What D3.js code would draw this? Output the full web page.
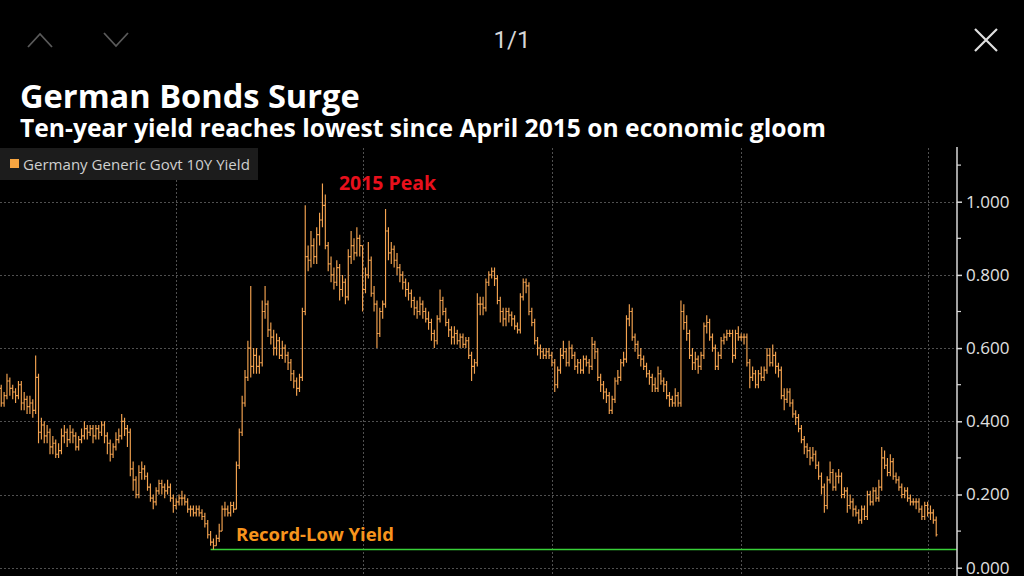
<!DOCTYPE html>
<html><head><meta charset="utf-8">
<script src="https://cdn.jsdelivr.net/npm/d3@7"></script>
<style>html,body{margin:0;padding:0;background:#000;overflow:hidden}</style>
</head><body>
<svg id="c" width="1024" height="576"></svg>
<script>
// ---- data (daily, Jan 2015 - Apr 2016) ----
const closes = [
0.50,0.49,0.45,0.47,0.51,0.49,0.48,0.47,0.50,0.45,
0.46,0.44,0.45,0.43,0.52,0.37,0.39,0.36,0.37,0.33,
0.34,0.31,0.32,0.36,0.37,0.35,0.37,0.36,0.33,0.35,
0.36,0.38,0.37,0.38,0.36,0.38,0.37,0.39,0.36,0.34,
0.31,0.33,0.35,0.36,0.40,0.38,0.37,0.27,0.24,0.20,
0.26,0.27,0.25,0.22,0.19,0.18,0.21,0.23,0.22,0.21,
0.22,0.19,0.17,0.18,0.19,0.19,0.18,0.16,0.16,0.15,
0.16,0.15,0.14,0.12,0.09,0.07,0.06,0.08,0.10,0.16,
0.16,0.15,0.17,0.16,0.28,0.37,0.45,0.52,0.60,0.55,
0.58,0.55,0.56,0.70,0.72,0.65,0.63,0.60,0.62,0.58,
0.60,0.58,0.56,0.53,0.51,0.49,0.52,0.70,0.85,0.84,
0.88,0.85,0.91,0.95,0.99,0.88,0.83,0.80,0.78,0.82,
0.76,0.78,0.74,0.85,0.88,0.86,0.90,0.88,0.76,0.80,
0.84,0.75,0.72,0.64,0.70,0.72,0.92,0.86,0.87,0.84,
0.82,0.80,0.78,0.76,0.75,0.73,0.71,0.70,0.72,0.70,
0.68,0.67,0.64,0.62,0.68,0.73,0.70,0.67,0.65,0.63,
0.64,0.62,0.63,0.61,0.62,0.58,0.55,0.56,0.72,0.72,
0.71,0.78,0.80,0.81,0.79,0.73,0.70,0.68,0.70,0.69,
0.68,0.66,0.65,0.74,0.78,0.77,0.70,0.67,0.62,0.60,
0.59,0.58,0.59,0.58,0.56,0.50,0.54,0.58,0.59,0.56,
0.60,0.58,0.55,0.56,0.54,0.57,0.56,0.55,0.61,0.59,
0.52,0.50,0.48,0.47,0.43,0.46,0.51,0.52,0.56,0.57,
0.68,0.70,0.63,0.61,0.58,0.57,0.55,0.53,0.52,0.50,
0.49,0.53,0.51,0.50,0.47,0.46,0.45,0.47,0.45,0.70,
0.67,0.64,0.58,0.56,0.57,0.55,0.58,0.66,0.67,0.63,
0.60,0.55,0.58,0.62,0.63,0.64,0.64,0.58,0.64,0.63,
0.63,0.63,0.56,0.52,0.53,0.50,0.53,0.52,0.54,0.58,
0.56,0.58,0.55,0.54,0.47,0.46,0.48,0.45,0.42,0.41,
0.38,0.35,0.33,0.32,0.30,0.31,0.28,0.25,0.22,0.17,
0.24,0.26,0.22,0.25,0.25,0.20,0.21,0.17,0.18,0.16,
0.15,0.13,0.16,0.14,0.20,0.18,0.21,0.19,0.22,0.30,
0.28,0.26,0.29,0.25,0.24,0.22,0.20,0.21,0.19,0.18,
0.18,0.18,0.16,0.14,0.17,0.15,0.15,0.13,0.09];
const highs = [
.53,.52,.50,.48,.53,.52,.50,.49,.51,.51,
.48,.47,.47,.46,.58,.53,.41,.40,.39,.38,
.36,.35,.34,.38,.39,.38,.39,.38,.37,.36,
.38,.40,.39,.39,.39,.39,.39,.40,.40,.37,
.35,.34,.37,.38,.42,.41,.39,.38,.29,.25,
.28,.29,.28,.26,.23,.20,.22,.24,.24,.23,
.24,.23,.20,.19,.20,.21,.20,.19,.17,.17,
.17,.17,.16,.15,.13,.10,.08,.09,.12,.17,
.18,.17,.18,.18,.29,.38,.47,.54,.62,.77,
.60,.60,.58,.73,.77,.73,.67,.65,.64,.63,
.62,.61,.59,.57,.54,.52,.53,.71,.99,.88,
.92,.90,.93,.97,1.05,1.02,.89,.85,.82,.84,
.83,.80,.79,.87,.92,.90,.93,.91,.88,.82,
.89,.85,.77,.73,.71,.73,.98,.93,.89,.88,
.86,.83,.81,.79,.78,.76,.74,.73,.74,.73,
.71,.70,.68,.65,.69,.76,.74,.71,.68,.66,
.66,.65,.64,.64,.63,.63,.59,.57,.75,.74,
.74,.79,.81,.82,.82,.80,.74,.71,.71,.71,
.70,.69,.67,.75,.79,.79,.78,.71,.68,.63,
.61,.60,.60,.60,.59,.57,.55,.60,.62,.60,
.62,.61,.59,.57,.57,.58,.58,.57,.63,.62,
.60,.53,.51,.49,.48,.47,.52,.54,.57,.59,
.69,.72,.71,.64,.62,.60,.58,.56,.54,.53,
.52,.55,.54,.52,.51,.48,.47,.49,.48,.73,
.72,.69,.65,.60,.59,.58,.59,.67,.69,.68,
.64,.61,.59,.63,.64,.65,.65,.65,.65,.66,
.64,.64,.64,.57,.55,.54,.54,.55,.55,.60,
.60,.61,.59,.56,.55,.49,.49,.49,.46,.43,
.42,.39,.36,.34,.33,.33,.32,.29,.26,.23,
.25,.29,.27,.26,.27,.26,.22,.22,.20,.19,
.17,.16,.17,.17,.21,.21,.22,.22,.24,.33,
.32,.30,.31,.30,.26,.25,.23,.22,.22,.20,
.19,.19,.19,.17,.18,.18,.17,.16,.14];
const lows = [
.48,.47,.44,.44,.46,.47,.46,.45,.46,.43,
.43,.42,.42,.41,.42,.34,.35,.34,.34,.31,
.31,.30,.30,.31,.34,.33,.34,.34,.32,.32,
.34,.35,.35,.36,.34,.35,.35,.36,.34,.31,
.29,.30,.32,.34,.35,.36,.33,.25,.21,.19,
.19,.24,.24,.21,.18,.16,.17,.20,.20,.19,
.20,.18,.15,.16,.17,.17,.17,.15,.14,.14,
.14,.14,.13,.11,.08,.06,.05,.06,.07,.10,
.14,.14,.14,.15,.16,.27,.36,.44,.51,.52,
.53,.53,.53,.55,.68,.63,.61,.58,.58,.57,
.57,.56,.54,.51,.49,.47,.48,.51,.69,.81,
.82,.83,.83,.88,.93,.87,.81,.78,.76,.77,
.73,.74,.72,.73,.83,.84,.85,.85,.70,.75,
.79,.74,.70,.60,.63,.68,.71,.84,.83,.82,
.80,.78,.76,.74,.73,.71,.69,.68,.69,.68,
.67,.65,.62,.60,.61,.67,.69,.66,.63,.61,
.61,.61,.60,.60,.60,.57,.51,.53,.55,.69,
.69,.70,.77,.79,.77,.72,.67,.66,.66,.67,
.66,.65,.64,.64,.73,.75,.69,.66,.61,.58,
.57,.57,.57,.57,.55,.48,.49,.53,.57,.55,
.55,.57,.54,.53,.53,.53,.55,.53,.54,.57,
.51,.48,.46,.45,.42,.42,.45,.50,.51,.55,
.56,.66,.62,.59,.57,.55,.54,.52,.50,.48,
.48,.48,.50,.48,.46,.44,.44,.44,.44,.44,
.65,.62,.57,.54,.54,.53,.54,.57,.64,.62,
.59,.54,.54,.57,.61,.62,.63,.56,.57,.62,
.62,.61,.55,.49,.51,.49,.49,.51,.51,.53,
.55,.55,.53,.52,.46,.43,.45,.44,.41,.39,
.37,.34,.31,.30,.28,.29,.27,.24,.20,.15,
.16,.23,.21,.21,.23,.19,.19,.15,.16,.14,
.14,.12,.12,.13,.13,.17,.17,.18,.18,.21,
.27,.25,.25,.24,.23,.21,.19,.19,.18,.17,
.17,.16,.15,.13,.13,.14,.13,.12,.085];
const firstOpen = 0.51;
const quarterStarts = [63, 128, 194, 260, 325]; // Apr-15, Jul-15, Oct-15, Jan-16, Apr-16
const yTicks = [0, 0.2, 0.4, 0.6, 0.8, 1.0];
const yMinorTicks = [0.1, 0.3, 0.5, 0.7, 0.9, 1.1];
const recordLow = 0.05;
const recordLowIndex = 75;
const seriesName = "Germany Generic Govt 10Y Yield";
const title = "German Bonds Surge";
const subtitle = "Ten-year yield reaches lowest since April 2015 on economic gloom";

// ---- build ----
const bars = closes.map((c, i) => ({i, o: i === 0 ? firstOpen : closes[i-1], h: highs[i], l: lows[i], c}));

const svg = d3.select("#c");
svg.append("rect").attr("width",1024).attr("height",576).attr("fill","#000");

const axisX = 957;
const x = d3.scaleLinear().domain([0, closes.length - 1]).range([-4.5, -4.5 + (closes.length - 1) * 2.868]);
const y = d3.scaleLinear().domain([0, 1.15]).range([567.7, 146.8]);

function fit(sel, target) {
  const w = sel.node().getComputedTextLength();
  const fs = parseFloat(sel.attr("font-size"));
  if (w > 0) sel.attr("font-size", (fs * target / w).toFixed(2));
  return sel;
}
const FONT = "'Open Sans', sans-serif";

// top navigation
const nav = svg.append("g");
nav.append("path").attr("d","M28,47L40,34L52,47").attr("fill","none").attr("stroke","#5a5a5a").attr("stroke-width",1.8);
nav.append("path").attr("d","M104,33L116,46L128,33").attr("fill","none").attr("stroke","#5a5a5a").attr("stroke-width",1.8);
nav.append("text").attr("x",512).attr("y",48).attr("text-anchor","middle").attr("fill","#d6d6d6")
  .attr("font-family","Roboto, 'Open Sans', sans-serif").attr("font-size",24).text("1/1");
nav.append("path").attr("d","M975,29L997,51M997,29L975,51").attr("stroke","#e0e0e0").attr("stroke-width",2.2);

// titles
fit(svg.append("text").attr("x",20).attr("y",108).attr("fill","#fff").attr("font-weight","bold")
  .attr("font-family",FONT).attr("font-size",30).text(title), 340);
fit(svg.append("text").attr("x",20).attr("y",137).attr("fill","#fff").attr("font-weight","bold")
  .attr("font-family",FONT).attr("font-size",21).text(subtitle), 806);

// grid
const grid = svg.append("g");
grid.selectAll("line.h").data(yTicks).join("line").attr("class","h")
  .attr("x1",0).attr("x2",axisX).attr("y1",d=>Math.round(y(d))+0.5).attr("y2",d=>Math.round(y(d))+0.5)
  .attr("stroke","#505050").attr("stroke-dasharray","2,2");
grid.selectAll("line.v").data(quarterStarts).join("line").attr("class","v")
  .attr("x1",d=>Math.round(x(d))+0.5).attr("x2",d=>Math.round(x(d))+0.5).attr("y1",148).attr("y2",576)
  .attr("stroke","#505050").attr("stroke-dasharray","2,2");

// legend
const lg = svg.append("g");
lg.append("rect").attr("x",0).attr("y",148).attr("width",258).attr("height",32).attr("fill","#1c1c1c");
lg.append("rect").attr("x",10).attr("y",159).attr("width",9).attr("height",9).attr("fill","#f7a541");
fit(lg.append("text").attr("x",23).attr("y",169.5).attr("fill","#cfcfcf")
  .attr("font-family",FONT).attr("font-size",14).text(seriesName), 227);

// record low line
svg.append("line").attr("x1",x(recordLowIndex)).attr("x2",axisX).attr("y1",y(recordLow)).attr("y2",y(recordLow))
  .attr("stroke","#38d038").attr("stroke-width",1.5);

// OHLC bars
const col = "#f4a350";
const tw = 1.4;
const g = svg.append("g").attr("stroke",col).attr("stroke-width",1.15).attr("fill","none");
g.selectAll("path").data(bars).join("path")
  .attr("d", d => {
    const cx = x(d.i);
    return `M${cx},${y(d.h)}V${y(d.l)}M${cx-tw},${y(d.o)}H${cx}M${cx},${y(d.c)}H${cx+tw}`;
  });

// annotations
fit(svg.append("text").attr("x",339).attr("y",190).attr("fill","#e8101c").attr("font-weight","bold")
  .attr("font-family",FONT).attr("font-size",16).text("2015 Peak"), 97);
fit(svg.append("text").attr("x",236).attr("y",541).attr("fill","#f7941d").attr("font-weight","bold")
  .attr("font-family",FONT).attr("font-size",16).text("Record-Low Yield"), 158);

// right axis
const ax = svg.append("g").attr("transform",`translate(${axisX},0)`);
const yAxis = d3.axisRight(y).tickValues(yTicks).tickSize(5).tickPadding(4).tickFormat(d3.format(".3f"));
ax.call(yAxis);
ax.select(".domain").attr("stroke","#d8d8d8").attr("stroke-width",1.5).attr("d","M0,147V576");
ax.selectAll(".tick line").attr("stroke","#d8d8d8").attr("stroke-width",1.5);
ax.selectAll(".tick text").attr("fill","#e0e0e0").attr("font-size",17)
  .attr("font-family",FONT);
ax.selectAll("line.minor").data(yMinorTicks).join("line").attr("class","minor")
  .attr("x1",0).attr("x2",4).attr("y1",d=>y(d)).attr("y2",d=>y(d)).attr("stroke","#d8d8d8").attr("stroke-width",1.2);
</script>
</body></html>
